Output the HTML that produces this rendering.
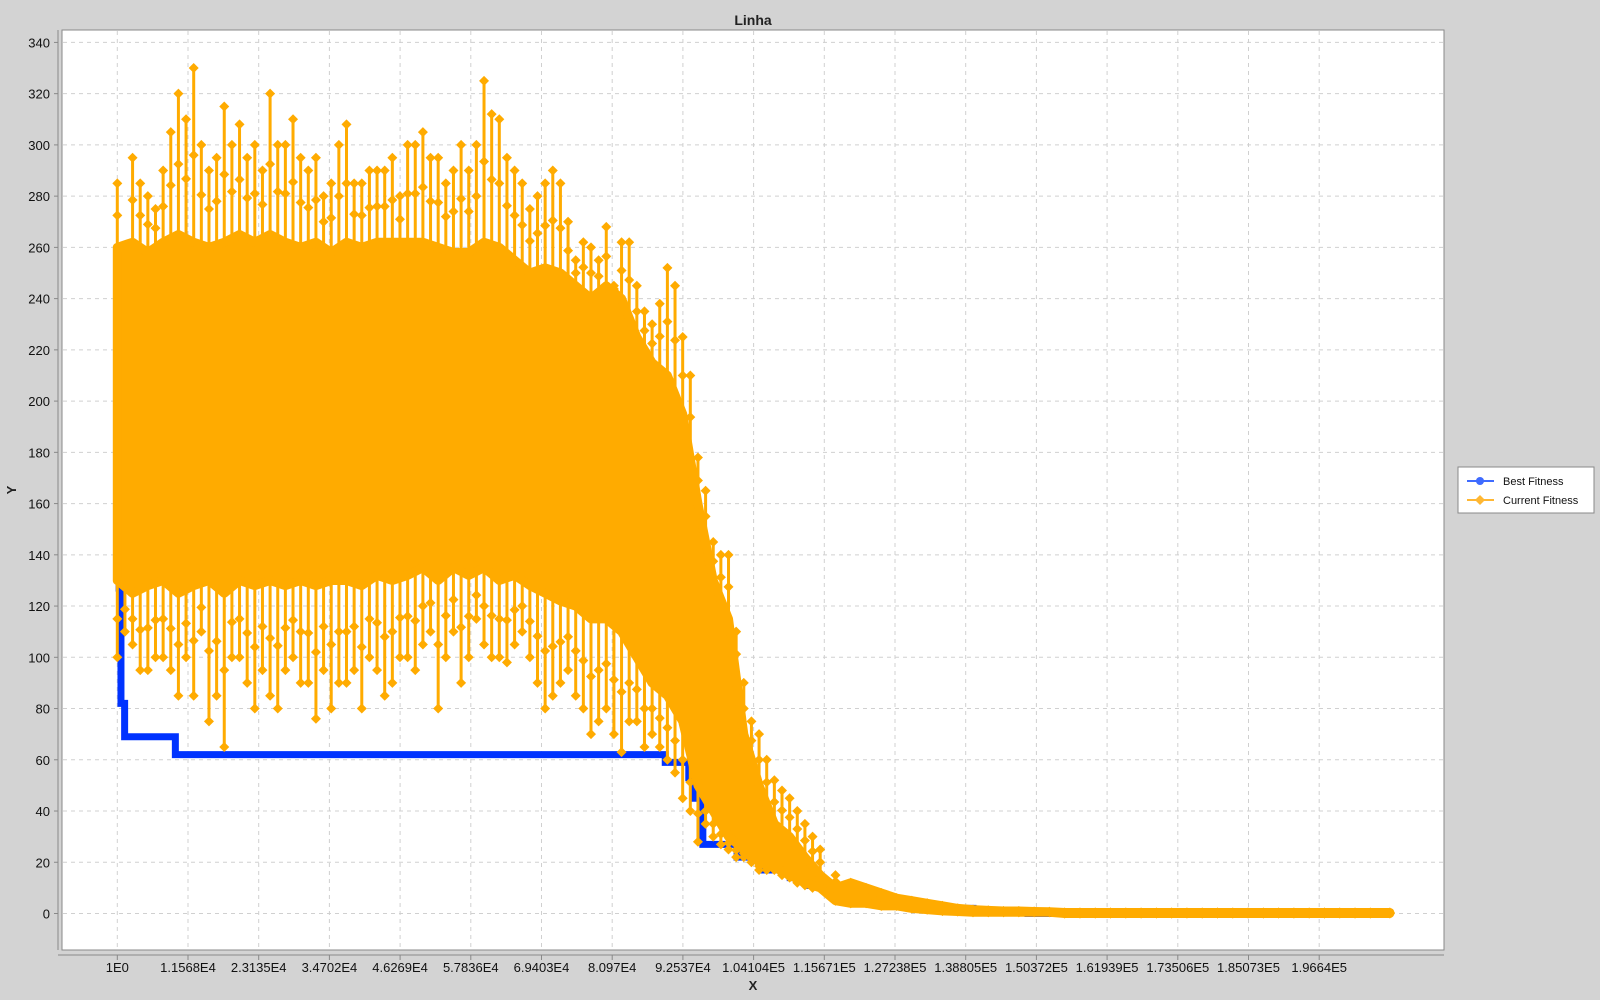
<!DOCTYPE html>
<html><head><meta charset="utf-8"><title>Linha</title>
<style>
html,body{margin:0;padding:0;background:#d3d3d3;}
svg{display:block;font-family:"Liberation Sans",sans-serif;}
</style></head>
<body>
<svg id="chart" width="1600" height="1000" viewBox="0 0 1600 1000" xmlns="http://www.w3.org/2000/svg">
<rect x="0" y="0" width="1600" height="1000" fill="#d3d3d3"/>
<text x="753" y="25" text-anchor="middle" font-size="14" font-weight="bold" fill="#222">Linha</text>
<rect x="62" y="30" width="1382" height="920" fill="#ffffff" stroke="#8a8a8a" stroke-width="1"/>
<g id="grid"></g>
<g id="series"></g>
<g id="axes"></g>
<text x="753" y="990" text-anchor="middle" font-size="13" font-weight="bold" fill="#222">X</text>
<text x="16" y="490" text-anchor="middle" font-size="13" font-weight="bold" fill="#222" transform="rotate(-90 16 490)">Y</text>
<g>
<rect x="1458" y="467" width="136" height="46" fill="#fff" stroke="#888"/>
<g>
<line x1="1467" y1="481" x2="1494" y2="481" stroke="#3f6bff" stroke-width="2"/>
<circle cx="1480" cy="481" r="4" fill="#3f6bff"/>
<text x="1503" y="485" font-size="11" fill="#111">Best Fitness</text>
</g>
<g>
<line x1="1467" y1="500" x2="1494" y2="500" stroke="#ffb733" stroke-width="2"/>
<path d="M1480 495 L1485 500 L1480 505 L1475 500 Z" fill="#ffb733"/>
<text x="1503" y="504" font-size="11" fill="#111">Current Fitness</text>
</g>
</g>
</svg>
<script>
// ---- data ----
const xTickLabels = ["1E0","1.1568E4","2.3135E4","3.4702E4","4.6269E4","5.7836E4","6.9403E4","8.097E4","9.2537E4","1.04104E5","1.15671E5","1.27238E5","1.38805E5","1.50372E5","1.61939E5","1.73506E5","1.85073E5","1.9664E5"];
const xTickValues = [1,11568,23135,34702,46269,57836,69403,80970,92537,104104,115671,127238,138805,150372,161939,173506,185073,196640];
const yTickValues = [0,20,40,60,80,100,120,140,160,180,200,220,240,260,280,300,320,340];
const binStep = 2500;
const curHi = [285,295,280,290,320,330,290,315,308,300,320,300,295,295,285,308,285,290,295,300,305,295,290,290,325,310,290,275,285,285,255,260,268,262,245,230,252,225,178,145,140,90,70,52,45,35,25,15,12,10,8,6,5,4,3,2,1.5,1.2,1,1,0.8,0.7,0.4,0.4,0.4,0.4,0.4,0.4,0.4,0.4,0.4,0.4,0.4,0.4,0.4,0.4,0.4,0.4,0.4,0.4,0.4,0.4,0.4,0.4];
const curLo = [100,105,95,100,85,85,75,65,100,80,85,95,90,76,80,90,80,95,90,100,105,80,110,100,105,100,105,100,80,90,85,70,80,63,75,70,60,45,28,30,25,22,17,17,14,11,10,5,4,4,3,3,2,1.5,1,0.8,0.5,0.5,0.5,0.5,0.5,0.5,0,0,0,0,0,0,0,0,0,0,0,0,0,0,0,0,0,0,0,0,0,0];
const midHi = [260,285,275,305,310,300,295,300,295,290,300,310,290,280,300,285,290,290,280,300,295,285,300,300,312,295,285,280,290,270,262,255,245,262,235,238,245,210,165,140,110,75,60,48,40,30];
const midLo = [110,95,100,95,100,110,85,100,90,95,80,100,90,95,90,95,100,85,100,95,110,100,90,115,100,98,110,90,85,95,80,75,70,75,65,65,55,40,35,27,22,20,17,15,12,10];
const coreHi = [260,262,258,262,265,262,260,262,265,262,265,262,260,262,258,262,260,262,262,262,262,260,258,258,262,260,255,250,252,250,245,240,245,240,225,215,210,195,160,130,115,70,50,35,30,22,15,10,12,10,8,6,5,4,3,2,1.5,1.2,1,1,0.8,0.7,0.4,0.4,0.4,0.4,0.4,0.4,0.4,0.4,0.4,0.4,0.4,0.4,0.4,0.4,0.4,0.4,0.4,0.4,0.4,0.4,0.4,0.4];
const coreLo = [130,125,128,130,125,128,130,125,130,128,130,128,130,128,130,130,128,132,130,132,135,130,135,132,135,130,132,128,125,122,120,115,115,110,100,90,85,75,50,40,30,25,20,18,15,12,10,5,4,4,3,3,2,1.5,1,0.8,0.5,0.5,0.5,0.5,0.5,0.5,0,0,0,0,0,0,0,0,0,0,0,0,0,0,0,0,0,0,0,0,0,0];
const bestX = [1,300,600,1200,9500,89650,93500,94200,95000,95800,101400,105500,110100,113300,116100,118300,124800,129000,134000,140000,149000,208200];
const bestY = [155,127,82,69,62,59,53,45,45,27,22,17,14,11,8,5,4,3,2,1,0,0];

// ---- axes functions ----
const X0 = 117.3, XS = 70.7/11567;
const Y0 = 913.5, YS = 51.24/20;
const sx = v => X0 + (v-1)*XS;
const sy = v => Y0 - v*YS;
const NS = "http://www.w3.org/2000/svg";
function mk(tag, attrs, parent){ const e=document.createElementNS(NS,tag); for(const k in attrs) e.setAttribute(k,attrs[k]); parent.appendChild(e); return e; }

const grid = document.getElementById('grid');
const axes = document.getElementById('axes');
const series = document.getElementById('series');

xTickValues.forEach((v,i)=>{
  const x = sx(v);
  const g = mk('line',{x1:x,y1:31,x2:x,y2:949,stroke:'#d0d0d0','stroke-dasharray':'4 4','stroke-width':1},grid);
  
  
  const t = mk('line',{x1:x,y1:955,x2:x,y2:960,stroke:'#888'},axes);
  
  
  const l = mk('text',{x:x,y:972,'text-anchor':'middle','font-size':13,fill:'#111'},axes);
  l.textContent = xTickLabels[i];
  
  
});
yTickValues.forEach(v=>{
  const y = sy(v);
  const g = mk('line',{x1:63,y1:y,x2:1443,y2:y,stroke:'#d0d0d0','stroke-dasharray':'4 4','stroke-width':1},grid);
  
  
  const t = mk('line',{x1:54,y1:y,x2:58,y2:y,stroke:'#888'},axes);
  
  
  const l = mk('text',{x:50,y:y+5,'text-anchor':'end','font-size':13,fill:'#111'},axes);
  l.textContent = String(v);
  
  
});
const xa = mk('line',{x1:58,y1:955,x2:1444,y2:955,stroke:'#888'},axes);


const ya = mk('line',{x1:58,y1:30,x2:58,y2:950,stroke:'#888'},axes);



// ---- best fitness (step line) ----
let bd = '';
bestX.forEach((v,i)=>{
  if(i===0) bd += 'M'+sx(v)+' '+sy(bestY[i]);
  else bd += ' L'+sx(v)+' '+sy(bestY[i-1])+' L'+sx(v)+' '+sy(bestY[i]);
});
const best = mk('path',{d:bd,fill:'none',stroke:'#0033ff','stroke-width':7},series);



// ---- current fitness ----
const bx = curHi.map((_,i)=> i===0 ? 1 : i*binStep);
bx[bx.length-1] = 208200;
const orange = '#ffab00';
function diamond(x,y){
  const d = mk('path',{d:`M${x} ${y-5} L${x+5} ${y} L${x} ${y+5} L${x-5} ${y} Z`,fill:orange},series);
  
  
}
function spike(xv,h,l,ch,cl){
  const x = sx(xv);
  const s = mk('line',{x1:x,y1:sy(h),x2:x,y2:sy(l),stroke:orange,'stroke-width':3},series);
  
  
  diamond(x,sy(h)); diamond(x,sy(l));
  diamond(x,sy((h+ch)/2)); diamond(x,sy((l+cl)/2));
}
curHi.forEach((h,i)=> spike(bx[i],h,curLo[i],coreHi[i],coreLo[i]));
midHi.forEach((h,i)=> spike(i*binStep+binStep/2,h,midLo[i],(coreHi[i]+coreHi[i+1])/2,(coreLo[i]+coreLo[i+1])/2));
// core band (jagged)
let cd = '';
coreHi.forEach((v,i)=>{ cd += (i?' L':'M')+sx(bx[i])+' '+sy(v); });
for(let i=coreLo.length-1;i>=0;i--) cd += ' L'+sx(bx[i])+' '+sy(coreLo[i]);
cd += ' Z';
const core = mk('path',{d:cd,fill:orange,stroke:orange,'stroke-width':9,'stroke-linejoin':'round'},series);


</script>
</body></html>
